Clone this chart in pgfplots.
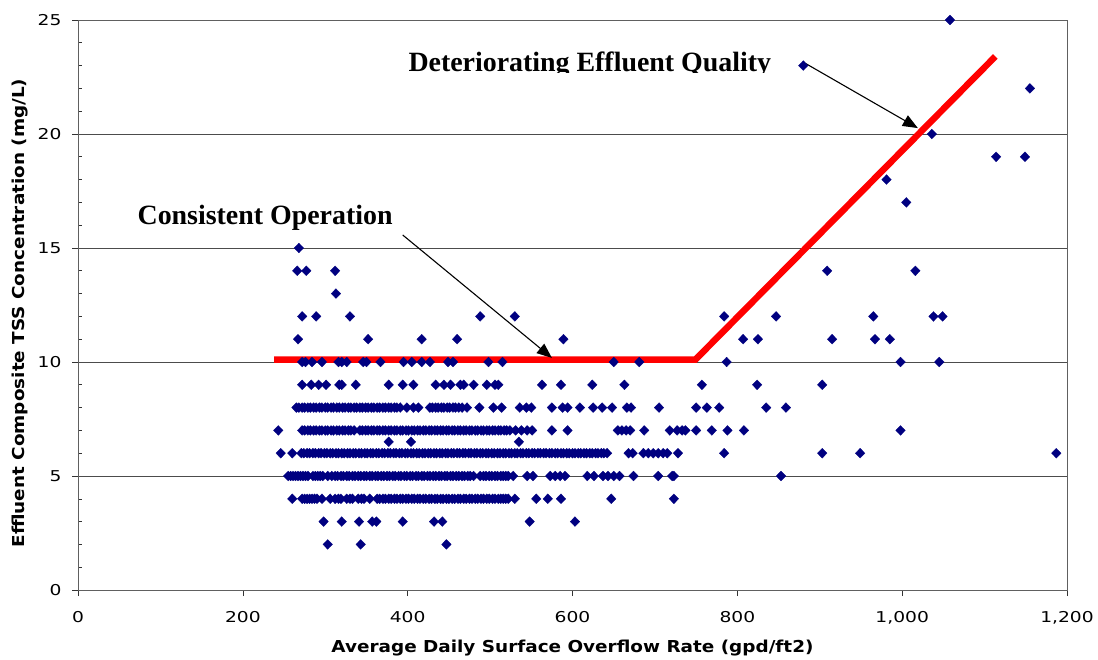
\documentclass[border=0pt]{standalone}
\usepackage{fontspec}
\setmainfont{DejaVu Sans}
\newfontfamily\annfont{Liberation Serif}
\newfontfamily\tickfont[FakeStretch=1.25]{DejaVu Sans}
\newfontfamily\labfont[FakeStretch=1.12]{DejaVu Sans}
\usepackage{pgfplots}
\pgfplotsset{compat=1.18}
\usetikzlibrary{arrows.meta}
\definecolor{navy}{RGB}{0,0,128}
\pgfplotsset{tssmark/.style={only marks, mark=diamond*, mark size=3.5bp, mark options={fill=navy, draw=navy, line width=0.3bp, scale=1.4, xscale=1.3}}}
\begin{document}
\begin{tikzpicture}
\begin{axis}[
  width=989bp, height=570bp, scale only axis,
  xmin=0, xmax=1200, ymin=0, ymax=25,
  xtick={0,200,...,1200}, ytick={0,5,...,25},
  minor y tick num=4,
  xtick pos=left, ytick pos=left,
  ymajorgrids, major grid style={black!70, line width=0.6bp},
  axis line style={gray!75!black, line width=0.8bp},
  tick align=outside, major tick length=6bp, minor tick length=4bp,
  tick style={black!80, line width=0.6bp},
  every minor tick/.append style={xshift=4bp},
  /pgf/number format/assume math mode=true,
  /pgf/number format/1000 sep={,},
  ticklabel style={font=\tickfont\fontsize{15}{17}\selectfont, text=black},
  xticklabel style={yshift=-12bp},
  yticklabel style={xshift=-7bp},
  xlabel={Average Daily Surface Overflow Rate (gpd/ft2)},
  ylabel={Effluent Composite TSS Concentration (mg/L)},
  every axis x label/.style={at={(rel axis cs:0.5,0)}, yshift=-58bp, anchor=center, font=\labfont\bfseries\fontsize{16.5}{18}\selectfont},
  every axis y label/.style={at={(rel axis cs:0,0.486)}, xshift=-58bp, rotate=90, anchor=center, font=\labfont\bfseries\fontsize{16.5}{18}\selectfont},
  clip=false,
]
\path ([xshift=-78bp,yshift=-68bp]rel axis cs:0,0) rectangle ([xshift=31bp,yshift=20bp]rel axis cs:1,1);

\addplot[tssmark] coordinates {
% y=25..13
(1058,25) (880,23) (1155,22) (1036,20) (1114,19) (1149,19) (981,18) (1005,17)
(268,15) (266,14) (277,14) (312,14) (909,14) (1016,14) (313,13)
% y=12
(272,12) (289,12) (330,12) (488,12) (530,12) (784,12) (847,12) (965,12) (1038,12) (1049,12)
% y=11
(267,11) (352,11) (417,11) (460,11) (589,11) (807,11) (825,11) (915,11) (967,11) (985,11)
% y=10
(272,10) (276,10) (284,10) (296,10) (316,10) (320,10) (326,10) (346,10) (350,10) (367,10) (395,10) (405,10)
(417,10) (427,10) (449,10) (455,10) (498,10) (515,10) (650,10) (681,10) (787,10) (998,10) (1045,10)
% y=9
(272,9) (283,9) (292,9) (301,9) (317,9) (320,9) (337,9) (377,9) (394,9) (407,9) (434,9) (444,9) (452,9)
(464,9) (468,9) (480,9) (496,9) (506,9) (510,9) (563,9) (586,9) (624,9) (663,9) (757,9) (824,9) (903,9)
% y=8
(265,8) (272,8) (279,8) (286,8) (293,8) (300,8) (307,8) (314,8) (321,8) (328,8) (335,8) (342,8) (349,8)
(356,8) (363,8) (370,8) (377,8) (384,8) (391,8) (399,8) (407,8) (413,8) (427,8) (434,8) (441,8) (448,8)
(455,8) (462,8) (466,8) (472,8) (487,8) (504,8) (514,8) (536,8) (544,8) (550,8) (575,8) (588,8) (594,8)
(609,8) (625,8) (636,8) (648,8) (666,8) (671,8) (705,8) (750,8) (763,8) (778,8) (835,8) (859,8)
% y=7
(243,7) (272,7) (279,7) (286,7) (293,7) (300,7) (307,7) (314,7) (321,7) (328,7) (335,7) (342,7) (349,7)
(356,7) (363,7) (370,7) (377,7) (384,7) (391,7) (398,7) (405,7) (412,7) (419,7) (426,7) (433,7) (440,7)
(447,7) (454,7) (461,7) (468,7) (475,7) (482,7) (489,7) (496,7) (503,7) (510,7) (517,7) (524,7) (531,7)
(538,7) (545,7) (551,7) (575,7) (594,7) (655,7) (660,7) (665,7) (670,7) (687,7) (718,7) (727,7) (733,7)
(737,7) (750,7) (769,7) (788,7) (808,7) (998,7)
% y=6.5
(377,6.5) (404,6.5) (535,6.5)
% y=6
(246,6) (260,6) (271,6) (278,6) (285,6) (292,6) (299,6) (306,6) (313,6) (320,6) (327,6) (334,6) (341,6)
(348,6) (355,6) (362,6) (369,6) (376,6) (383,6) (390,6) (397,6) (404,6) (411,6) (418,6) (425,6) (432,6)
(439,6) (446,6) (453,6) (460,6) (467,6) (474,6) (481,6) (488,6) (495,6) (502,6) (509,6) (516,6) (523,6)
(530,6) (537,6) (544,6) (551,6) (558,6) (565,6) (572,6) (579,6) (586,6) (593,6) (600,6) (607,6) (614,6)
(621,6) (628,6) (635,6) (642,6) (668,6) (673,6) (686,6) (692,6) (698,6) (704,6) (710,6) (715,6) (728,6)
(784,6) (903,6) (949,6) (1187,6)
% y=5
(255,5) (261,5) (267,5) (273,5) (279,5) (285,5) (291,5) (297,5) (303,5) (308,5) (315,5) (322,5) (329,5)
(336,5) (343,5) (350,5) (357,5) (364,5) (371,5) (378,5) (385,5) (392,5) (399,5) (406,5) (413,5) (420,5)
(427,5) (434,5) (441,5) (448,5) (455,5) (462,5) (469,5) (476,5) (480,5) (488,5) (495,5) (502,5) (509,5)
(516,5) (522,5) (528,5) (545,5) (552,5) (573,5) (579,5) (585,5) (591,5) (618,5) (626,5) (637,5) (643,5)
(650,5) (657,5) (674,5) (704,5) (721,5) (723,5) (853,5)
% y=4
(260,4) (272,4) (278,4) (284,4) (290,4) (296,4) (306,4) (312,4) (319,4) (326,4) (333,4) (340,4) (347,4)
(354,4) (363,4) (370,4) (377,4) (384,4) (391,4) (398,4) (405,4) (412,4) (419,4) (426,4) (433,4) (440,4)
(447,4) (454,4) (461,4) (468,4) (475,4) (482,4) (489,4) (496,4) (503,4) (510,4) (516,4) (522,4) (530,4)
(556,4) (570,4) (586,4) (647,4) (723,4)
% y=3
(298,3) (320,3) (341,3) (357,3) (362,3) (394,3) (432,3) (442,3) (548,3) (603,3)
% y=2
(303,2) (343,2) (447,2)
};

% further readings inside the dense bands
\addplot[tssmark] coordinates {
% y=8
(268,8) (275,8) (282,8) (289,8) (296,8) (303,8) (310,8) (317,8) (324,8) (331,8) (338,8) (345,8) (352,8)
(359,8) (366,8) (373,8) (380,8) (387,8) (430,8) (437,8) (444,8) (451,8) (458,8)
% y=7
(275,7) (282,7) (289,7) (296,7) (303,7) (310,7) (317,7) (324,7) (331,7) (345,7) (352,7) (359,7) (366,7)
(373,7) (380,7) (387,7) (394,7) (401,7) (408,7) (415,7) (422,7) (429,7) (436,7) (443,7) (450,7) (457,7)
(464,7) (471,7) (478,7) (485,7) (492,7) (499,7) (506,7) (513,7) (520,7)
% y=6
(274,6) (281,6) (288,6) (295,6) (302,6) (309,6) (316,6) (323,6) (330,6) (337,6) (344,6) (351,6) (358,6)
(365,6) (372,6) (379,6) (386,6) (393,6) (400,6) (407,6) (414,6) (421,6) (428,6) (435,6) (442,6) (449,6)
(456,6) (463,6) (470,6) (477,6) (484,6) (491,6) (498,6) (505,6) (512,6) (519,6) (526,6) (533,6) (540,6)
(547,6) (554,6) (561,6) (568,6) (575,6) (582,6) (589,6) (596,6) (603,6) (610,6) (617,6) (624,6) (631,6) (638,6)
% y=5
(258,5) (264,5) (270,5) (276,5) (288,5) (294,5) (312,5) (319,5) (326,5) (333,5) (340,5) (347,5) (354,5)
(361,5) (368,5) (375,5) (382,5) (389,5) (396,5) (403,5) (410,5) (417,5) (424,5) (431,5) (438,5) (445,5)
(452,5) (459,5) (466,5) (473,5) (492,5) (499,5) (506,5) (513,5) (519,5)
% y=4
(275,4) (281,4) (287,4) (316,4) (330,4) (344,4) (366,4) (373,4) (380,4) (387,4) (394,4) (401,4) (408,4)
(415,4) (422,4) (429,4) (436,4) (443,4) (450,4) (457,4) (464,4) (471,4) (478,4) (485,4) (492,4) (499,4)
(506,4) (513,4) (519,4)
};

\addplot[red, line width=6.5bp, no markers] coordinates {(238,10.1) (749,10.1) (1113,23.4)};

\draw[-{Triangle[length=15bp,width=12bp]}, line width=1.1bp, black] (axis cs:394,15.57) -- (axis cs:575,10.18);
\draw[-{Triangle[length=15bp,width=12bp]}, line width=1.1bp, black] (axis cs:882,23.11) -- (axis cs:1019,20.26);

\node[anchor=base, inner sep=0pt, font=\annfont\bfseries\fontsize{28}{30}\selectfont] at (axis cs:227,16.05) {Consistent Operation};
\begin{scope}
\clip (axis cs:300,22.68) rectangle (axis cs:900,24.8);
\node[anchor=base, inner sep=0pt, font=\annfont\bfseries\fontsize{28}{30}\selectfont] at (axis cs:621,22.76) {Deteriorating Effluent Quality};
\end{scope}
\end{axis}
\end{tikzpicture}
\end{document}
